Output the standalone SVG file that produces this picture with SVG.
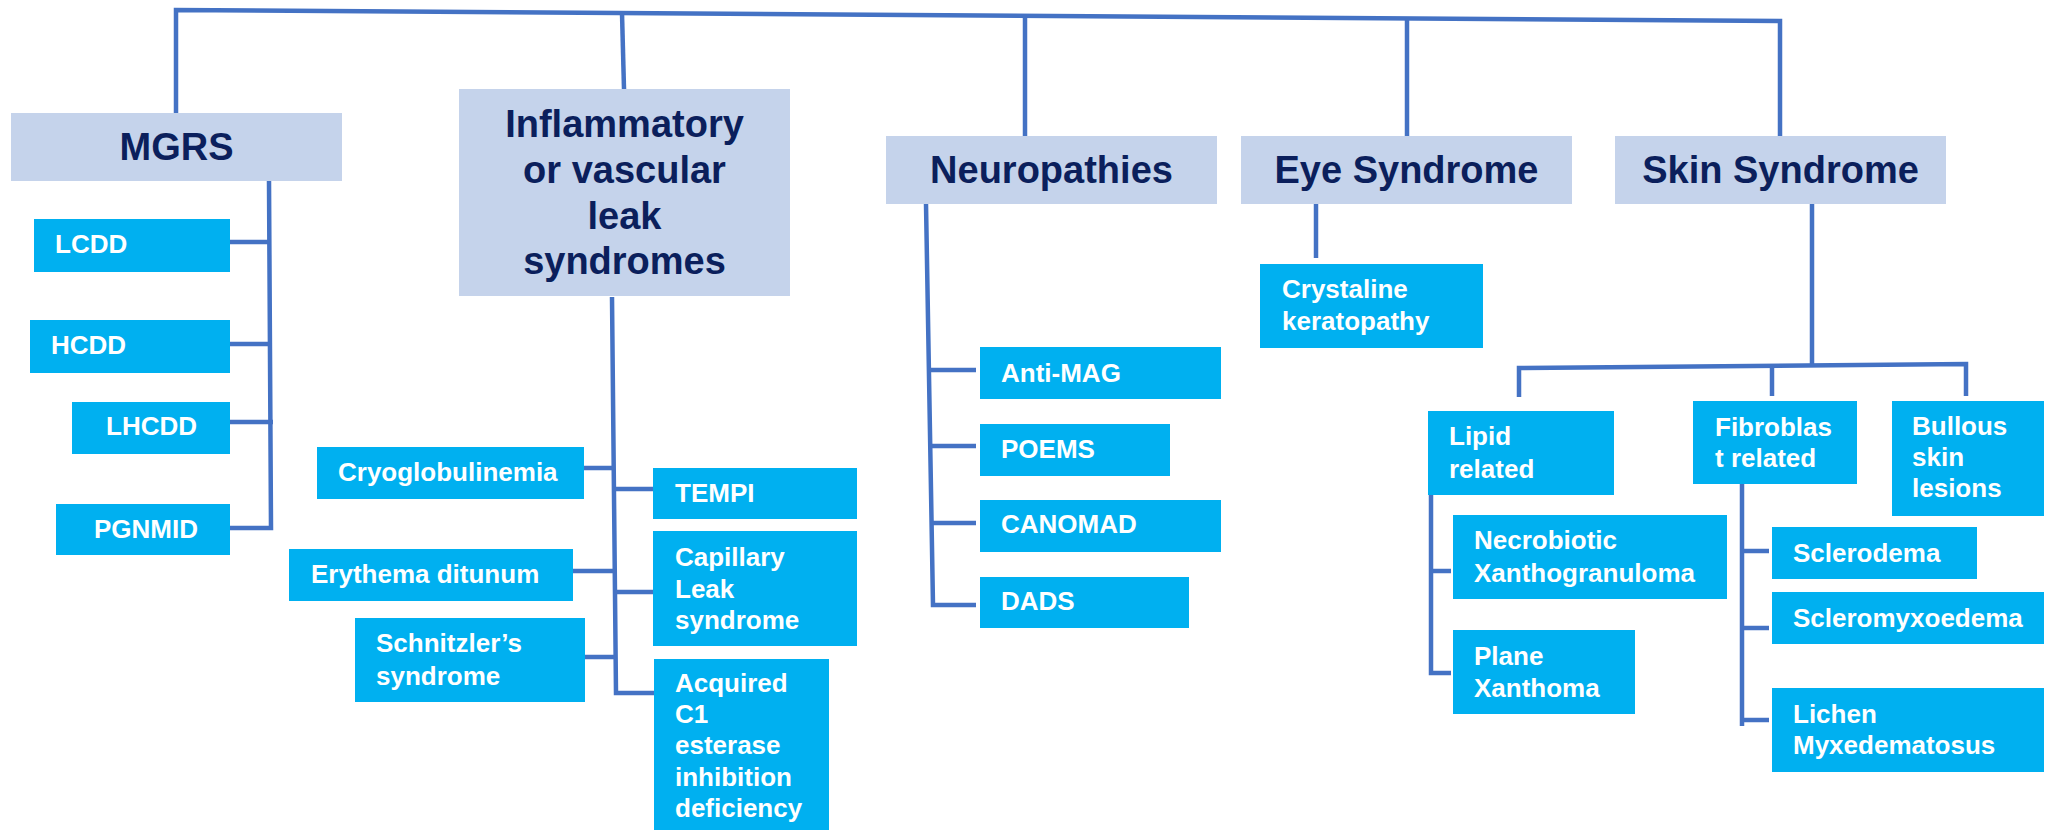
<svg xmlns="http://www.w3.org/2000/svg" width="2049" height="830" viewBox="0 0 2049 830">
<style>
.hdr{fill:#C5D3EB}
.leaf{fill:#00B0F0}
.ht{font-family:"Liberation Sans",Arial,sans-serif;font-weight:bold;font-size:38px;fill:#0B1F5C;text-anchor:middle}
.lt{font-family:"Liberation Sans",Arial,sans-serif;font-weight:bold;font-size:26px;fill:#FFFFFF}
.con{fill:none;stroke:#4472C4;stroke-width:4.5}
</style>
<rect width="2049" height="830" fill="#FFFFFF"/>
<g id="connectors" class="con">
<path d="M176,113 V10 L1780,21 V141"/>
<path d="M622,13 L624,89"/>
<path d="M1025,16 V136"/>
<path d="M1407,18 V136"/>
<path d="M269,181 L271,528 H230"/>
<path d="M230,242 H270"/>
<path d="M230,344 H270"/>
<path d="M230,422 H273"/>
<path d="M612,297 L616,693 H654"/>
<path d="M574,468 H614"/>
<path d="M573,571 H614"/>
<path d="M574,657 H615"/>
<path d="M615,489 H653"/>
<path d="M615,592 H653"/>
<path d="M926,204 L933,605 H976"/>
<path d="M929,370 H976"/>
<path d="M930,446 H976"/>
<path d="M932,523 H976"/>
<path d="M1316,204 V258"/>
<path d="M1812,204 V366"/>
<path d="M1519,397 V368 L1966,364 V396"/>
<path d="M1772,366 V396"/>
<path d="M1431,491 V673 H1451"/>
<path d="M1431,571 H1451"/>
<path d="M1742,484 V726"/>
<path d="M1742,551 H1769"/>
<path d="M1742,628 H1769"/>
<path d="M1742,720 H1769"/>
</g>
<g id="mgrs"><rect class="hdr" x="11" y="113" width="331" height="68"/><text class="ht" x="176.5" y="160">MGRS</text></g>
<g id="inflammatory"><rect class="hdr" x="459" y="89" width="331" height="207"/><text class="ht" x="624.5" y="137">Inflammatory</text><text class="ht" x="624.5" y="183">or vascular</text><text class="ht" x="624.5" y="229">leak</text><text class="ht" x="624.5" y="274">syndromes</text></g>
<g id="neuropathies"><rect class="hdr" x="886" y="136" width="331" height="68"/><text class="ht" x="1051.5" y="183">Neuropathies</text></g>
<g id="eye"><rect class="hdr" x="1241" y="136" width="331" height="68"/><text class="ht" x="1406.5" y="183">Eye Syndrome</text></g>
<g id="skin"><rect class="hdr" x="1615" y="136" width="331" height="68"/><text class="ht" x="1780.5" y="183">Skin Syndrome</text></g>
<g id="lcdd"><rect class="leaf" x="34" y="219" width="196" height="53"/><text class="lt" x="55" y="253">LCDD</text></g>
<g id="hcdd"><rect class="leaf" x="30" y="320" width="200" height="53"/><text class="lt" x="51" y="354">HCDD</text></g>
<g id="lhcdd"><rect class="leaf" x="72" y="402" width="158" height="52"/><text class="lt" x="106" y="435">LHCDD</text></g>
<g id="pgnmid"><rect class="leaf" x="56" y="504" width="174" height="51"/><text class="lt" x="94" y="538">PGNMID</text></g>
<g id="cryo"><rect class="leaf" x="317" y="447" width="267" height="52"/><text class="lt" x="338" y="481">Cryoglobulinemia</text></g>
<g id="erythema"><rect class="leaf" x="289" y="549" width="284" height="52"/><text class="lt" x="311" y="583">Erythema ditunum</text></g>
<g id="schnitzler"><rect class="leaf" x="355" y="618" width="230" height="84"/><text class="lt" x="376" y="652">Schnitzler’s</text><text class="lt" x="376" y="685">syndrome</text></g>
<g id="tempi"><rect class="leaf" x="653" y="468" width="204" height="51"/><text class="lt" x="675" y="502">TEMPI</text></g>
<g id="capillary"><rect class="leaf" x="653" y="531" width="204" height="115"/><text class="lt" x="675" y="566">Capillary</text><text class="lt" x="675" y="598">Leak</text><text class="lt" x="675" y="629">syndrome</text></g>
<g id="acquired"><rect class="leaf" x="654" y="659" width="175" height="171"/><text class="lt" x="675" y="692">Acquired</text><text class="lt" x="675" y="723">C1</text><text class="lt" x="675" y="754">esterase</text><text class="lt" x="675" y="786">inhibition</text><text class="lt" x="675" y="817">deficiency</text></g>
<g id="antimag"><rect class="leaf" x="980" y="347" width="241" height="52"/><text class="lt" x="1001" y="382">Anti-MAG</text></g>
<g id="poems"><rect class="leaf" x="980" y="424" width="190" height="52"/><text class="lt" x="1001" y="458">POEMS</text></g>
<g id="canomad"><rect class="leaf" x="980" y="500" width="241" height="52"/><text class="lt" x="1001" y="533">CANOMAD</text></g>
<g id="dads"><rect class="leaf" x="980" y="577" width="209" height="51"/><text class="lt" x="1001" y="610">DADS</text></g>
<g id="crystaline"><rect class="leaf" x="1260" y="264" width="223" height="84"/><text class="lt" x="1282" y="298">Crystaline</text><text class="lt" x="1282" y="330">keratopathy</text></g>
<g id="lipid"><rect class="leaf" x="1428" y="411" width="186" height="84"/><text class="lt" x="1449" y="445">Lipid</text><text class="lt" x="1449" y="478">related</text></g>
<g id="fibroblast"><rect class="leaf" x="1693" y="401" width="164" height="83"/><text class="lt" x="1715" y="436">Fibroblas</text><text class="lt" x="1715" y="467">t related</text></g>
<g id="bullous"><rect class="leaf" x="1892" y="401" width="152" height="115"/><text class="lt" x="1912" y="435">Bullous</text><text class="lt" x="1912" y="466">skin</text><text class="lt" x="1912" y="497">lesions</text></g>
<g id="necrobiotic"><rect class="leaf" x="1453" y="515" width="274" height="84"/><text class="lt" x="1474" y="549">Necrobiotic</text><text class="lt" x="1474" y="582">Xanthogranuloma</text></g>
<g id="plane"><rect class="leaf" x="1453" y="630" width="182" height="84"/><text class="lt" x="1474" y="665">Plane</text><text class="lt" x="1474" y="697">Xanthoma</text></g>
<g id="sclerodema"><rect class="leaf" x="1772" y="527" width="205" height="52"/><text class="lt" x="1793" y="562">Sclerodema</text></g>
<g id="scleromyxoedema"><rect class="leaf" x="1772" y="592" width="272" height="52"/><text class="lt" x="1793" y="627">Scleromyxoedema</text></g>
<g id="lichen"><rect class="leaf" x="1772" y="688" width="272" height="84"/><text class="lt" x="1793" y="723">Lichen</text><text class="lt" x="1793" y="754">Myxedematosus</text></g>
</svg>
